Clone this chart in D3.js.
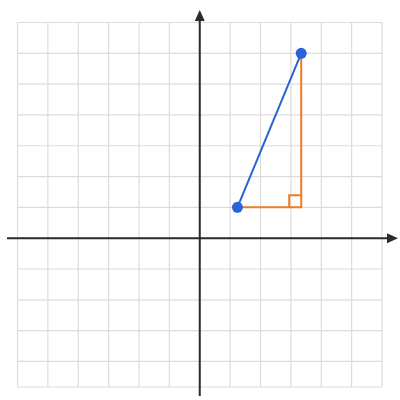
<!DOCTYPE html><html><head><script src="https://cdn.jsdelivr.net/npm/d3@7"></script>
<style>body{margin:0;background:#fff}</style></head><body><svg width="400" height="400"></svg><script>
const xTicks=[-6,-5,-4,-3,-2,-1,0,1,2,3,4,5,6];
const yTicks=[-4,-3,-2,-1,0,1,2,3,4,5,6,7];
const xDomain=[-6,6], yDomain=[-4.83,7];
const pointA=[1.24,1], pointB=[3.34,6];
const svg=d3.select("svg");
const x=d3.scaleLinear().domain(xDomain).range([17.5,382]);
const y=d3.scaleLinear().domain(yDomain).range([387,22.5]);
const g=svg.append("g").attr("stroke","#dcdcdc").attr("stroke-width",1.2);
xTicks.forEach(t=>g.append("line").attr("x1",x(t)).attr("x2",x(t)).attr("y1",y(yDomain[0])).attr("y2",y(yDomain[1])));
yTicks.concat([yDomain[0]]).forEach(t=>g.append("line").attr("y1",y(t)).attr("y2",y(t)).attr("x1",x(-6)).attr("x2",x(6)));
const ax="#2b2b2b";
svg.append("line").attr("x1",7).attr("x2",392).attr("y1",y(0)).attr("y2",y(0)).attr("stroke",ax).attr("stroke-width",2);
svg.append("line").attr("x1",x(0)).attr("x2",x(0)).attr("y1",396).attr("y2",18).attr("stroke",ax).attr("stroke-width",2);
svg.append("path").attr("d",`M398,${y(0)} L387,${y(0)-5} L387,${y(0)+5}Z`).attr("fill",ax);
svg.append("path").attr("d",`M${x(0)},10 L${x(0)-5},21 L${x(0)+5},21Z`).attr("fill",ax);
const or="#f47b20";
svg.append("path").attr("d",`M${x(pointA[0])},${y(pointA[1])}H${x(pointB[0])}V${y(pointB[1])}`).attr("fill","none").attr("stroke",or).attr("stroke-width",2);
const s=12;
svg.append("path").attr("d",`M${x(pointB[0])-s},${y(pointA[1])}V${y(pointA[1])-s}H${x(pointB[0])}`).attr("fill","none").attr("stroke",or).attr("stroke-width",2);
const bl="#2962d9";
svg.append("line").attr("x1",x(pointA[0])).attr("y1",y(pointA[1])).attr("x2",x(pointB[0])).attr("y2",y(pointB[1])).attr("stroke",bl).attr("stroke-width",2);
[pointA,pointB].forEach(p=>svg.append("circle").attr("cx",x(p[0])).attr("cy",y(p[1])).attr("r",5.5).attr("fill",bl));
</script></body></html>
